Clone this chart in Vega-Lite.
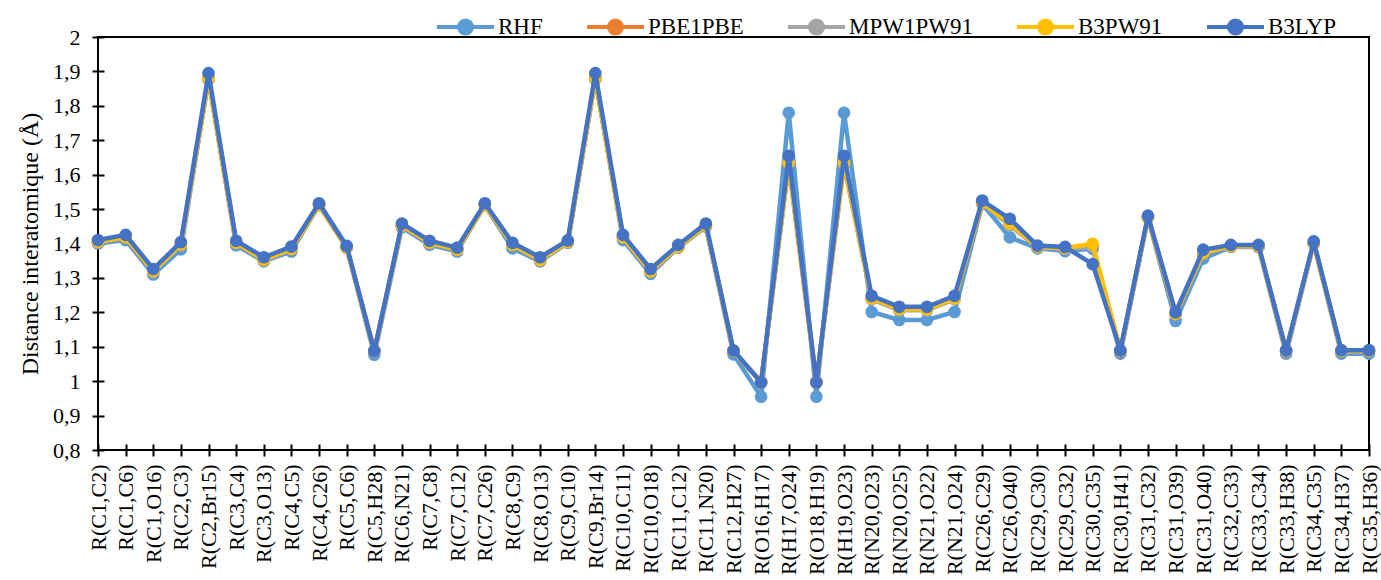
{
  "$schema": "https://vega.github.io/schema/vega-lite/v6.json",
  "autosize": {"type": "none"},
  "padding": {"left": 98, "top": 37, "right": 12, "bottom": 130},
  "width": 1271,
  "height": 413,
  "background": "white",
  "config": {
    "font": "Liberation Serif",
    "view": {"stroke": "#000000", "strokeWidth": 2},
    "axis": {"labelColor": "#000000", "titleColor": "#000000", "labelFont": "Liberation Serif", "titleFont": "Liberation Serif", "titleFontWeight": "normal"},
    "legend": {"labelFont": "Liberation Serif"}
  },
  "data": {"values": [
    {"bond": "R(C1,C2)", "method": "RHF", "value": 1.400}, {"bond": "R(C1,C2)", "method": "PBE1PBE", "value": 1.404}, {"bond": "R(C1,C2)", "method": "MPW1PW91", "value": 1.403}, {"bond": "R(C1,C2)", "method": "B3PW91", "value": 1.405}, {"bond": "R(C1,C2)", "method": "B3LYP", "value": 1.410},
    {"bond": "R(C1,C6)", "method": "RHF", "value": 1.410}, {"bond": "R(C1,C6)", "method": "PBE1PBE", "value": 1.418}, {"bond": "R(C1,C6)", "method": "MPW1PW91", "value": 1.417}, {"bond": "R(C1,C6)", "method": "B3PW91", "value": 1.419}, {"bond": "R(C1,C6)", "method": "B3LYP", "value": 1.425},
    {"bond": "R(C1,O16)", "method": "RHF", "value": 1.310}, {"bond": "R(C1,O16)", "method": "PBE1PBE", "value": 1.318}, {"bond": "R(C1,O16)", "method": "MPW1PW91", "value": 1.317}, {"bond": "R(C1,O16)", "method": "B3PW91", "value": 1.320}, {"bond": "R(C1,O16)", "method": "B3LYP", "value": 1.326},
    {"bond": "R(C2,C3)", "method": "RHF", "value": 1.383}, {"bond": "R(C2,C3)", "method": "PBE1PBE", "value": 1.396}, {"bond": "R(C2,C3)", "method": "MPW1PW91", "value": 1.395}, {"bond": "R(C2,C3)", "method": "B3PW91", "value": 1.398}, {"bond": "R(C2,C3)", "method": "B3LYP", "value": 1.404},
    {"bond": "R(C2,Br15)", "method": "RHF", "value": 1.880}, {"bond": "R(C2,Br15)", "method": "PBE1PBE", "value": 1.878}, {"bond": "R(C2,Br15)", "method": "MPW1PW91", "value": 1.876}, {"bond": "R(C2,Br15)", "method": "B3PW91", "value": 1.880}, {"bond": "R(C2,Br15)", "method": "B3LYP", "value": 1.895},
    {"bond": "R(C3,C4)", "method": "RHF", "value": 1.395}, {"bond": "R(C3,C4)", "method": "PBE1PBE", "value": 1.402}, {"bond": "R(C3,C4)", "method": "MPW1PW91", "value": 1.401}, {"bond": "R(C3,C4)", "method": "B3PW91", "value": 1.403}, {"bond": "R(C3,C4)", "method": "B3LYP", "value": 1.408},
    {"bond": "R(C3,O13)", "method": "RHF", "value": 1.348}, {"bond": "R(C3,O13)", "method": "PBE1PBE", "value": 1.352}, {"bond": "R(C3,O13)", "method": "MPW1PW91", "value": 1.351}, {"bond": "R(C3,O13)", "method": "B3PW91", "value": 1.353}, {"bond": "R(C3,O13)", "method": "B3LYP", "value": 1.360},
    {"bond": "R(C4,C5)", "method": "RHF", "value": 1.377}, {"bond": "R(C4,C5)", "method": "PBE1PBE", "value": 1.384}, {"bond": "R(C4,C5)", "method": "MPW1PW91", "value": 1.383}, {"bond": "R(C4,C5)", "method": "B3PW91", "value": 1.385}, {"bond": "R(C4,C5)", "method": "B3LYP", "value": 1.391},
    {"bond": "R(C4,C26)", "method": "RHF", "value": 1.512}, {"bond": "R(C4,C26)", "method": "PBE1PBE", "value": 1.512}, {"bond": "R(C4,C26)", "method": "MPW1PW91", "value": 1.511}, {"bond": "R(C4,C26)", "method": "B3PW91", "value": 1.512}, {"bond": "R(C4,C26)", "method": "B3LYP", "value": 1.517},
    {"bond": "R(C5,C6)", "method": "RHF", "value": 1.390}, {"bond": "R(C5,C6)", "method": "PBE1PBE", "value": 1.388}, {"bond": "R(C5,C6)", "method": "MPW1PW91", "value": 1.387}, {"bond": "R(C5,C6)", "method": "B3PW91", "value": 1.389}, {"bond": "R(C5,C6)", "method": "B3LYP", "value": 1.393},
    {"bond": "R(C5,H28)", "method": "RHF", "value": 1.077}, {"bond": "R(C5,H28)", "method": "PBE1PBE", "value": 1.088}, {"bond": "R(C5,H28)", "method": "MPW1PW91", "value": 1.087}, {"bond": "R(C5,H28)", "method": "B3PW91", "value": 1.088}, {"bond": "R(C5,H28)", "method": "B3LYP", "value": 1.088},
    {"bond": "R(C6,N21)", "method": "RHF", "value": 1.447}, {"bond": "R(C6,N21)", "method": "PBE1PBE", "value": 1.452}, {"bond": "R(C6,N21)", "method": "MPW1PW91", "value": 1.451}, {"bond": "R(C6,N21)", "method": "B3PW91", "value": 1.453}, {"bond": "R(C6,N21)", "method": "B3LYP", "value": 1.458},
    {"bond": "R(C7,C8)", "method": "RHF", "value": 1.396}, {"bond": "R(C7,C8)", "method": "PBE1PBE", "value": 1.402}, {"bond": "R(C7,C8)", "method": "MPW1PW91", "value": 1.401}, {"bond": "R(C7,C8)", "method": "B3PW91", "value": 1.403}, {"bond": "R(C7,C8)", "method": "B3LYP", "value": 1.408},
    {"bond": "R(C7,C12)", "method": "RHF", "value": 1.377}, {"bond": "R(C7,C12)", "method": "PBE1PBE", "value": 1.382}, {"bond": "R(C7,C12)", "method": "MPW1PW91", "value": 1.381}, {"bond": "R(C7,C12)", "method": "B3PW91", "value": 1.383}, {"bond": "R(C7,C12)", "method": "B3LYP", "value": 1.388},
    {"bond": "R(C7,C26)", "method": "RHF", "value": 1.512}, {"bond": "R(C7,C26)", "method": "PBE1PBE", "value": 1.512}, {"bond": "R(C7,C26)", "method": "MPW1PW91", "value": 1.511}, {"bond": "R(C7,C26)", "method": "B3PW91", "value": 1.512}, {"bond": "R(C7,C26)", "method": "B3LYP", "value": 1.517},
    {"bond": "R(C8,C9)", "method": "RHF", "value": 1.386}, {"bond": "R(C8,C9)", "method": "PBE1PBE", "value": 1.396}, {"bond": "R(C8,C9)", "method": "MPW1PW91", "value": 1.395}, {"bond": "R(C8,C9)", "method": "B3PW91", "value": 1.397}, {"bond": "R(C8,C9)", "method": "B3LYP", "value": 1.402},
    {"bond": "R(C8,O13)", "method": "RHF", "value": 1.348}, {"bond": "R(C8,O13)", "method": "PBE1PBE", "value": 1.352}, {"bond": "R(C8,O13)", "method": "MPW1PW91", "value": 1.351}, {"bond": "R(C8,O13)", "method": "B3PW91", "value": 1.353}, {"bond": "R(C8,O13)", "method": "B3LYP", "value": 1.360},
    {"bond": "R(C9,C10)", "method": "RHF", "value": 1.402}, {"bond": "R(C9,C10)", "method": "PBE1PBE", "value": 1.404}, {"bond": "R(C9,C10)", "method": "MPW1PW91", "value": 1.403}, {"bond": "R(C9,C10)", "method": "B3PW91", "value": 1.405}, {"bond": "R(C9,C10)", "method": "B3LYP", "value": 1.409},
    {"bond": "R(C9,Br14)", "method": "RHF", "value": 1.880}, {"bond": "R(C9,Br14)", "method": "PBE1PBE", "value": 1.878}, {"bond": "R(C9,Br14)", "method": "MPW1PW91", "value": 1.876}, {"bond": "R(C9,Br14)", "method": "B3PW91", "value": 1.880}, {"bond": "R(C9,Br14)", "method": "B3LYP", "value": 1.895},
    {"bond": "R(C10,C11)", "method": "RHF", "value": 1.410}, {"bond": "R(C10,C11)", "method": "PBE1PBE", "value": 1.418}, {"bond": "R(C10,C11)", "method": "MPW1PW91", "value": 1.417}, {"bond": "R(C10,C11)", "method": "B3PW91", "value": 1.419}, {"bond": "R(C10,C11)", "method": "B3LYP", "value": 1.425},
    {"bond": "R(C10,O18)", "method": "RHF", "value": 1.312}, {"bond": "R(C10,O18)", "method": "PBE1PBE", "value": 1.318}, {"bond": "R(C10,O18)", "method": "MPW1PW91", "value": 1.317}, {"bond": "R(C10,O18)", "method": "B3PW91", "value": 1.320}, {"bond": "R(C10,O18)", "method": "B3LYP", "value": 1.326},
    {"bond": "R(C11,C12)", "method": "RHF", "value": 1.388}, {"bond": "R(C11,C12)", "method": "PBE1PBE", "value": 1.390}, {"bond": "R(C11,C12)", "method": "MPW1PW91", "value": 1.389}, {"bond": "R(C11,C12)", "method": "B3PW91", "value": 1.391}, {"bond": "R(C11,C12)", "method": "B3LYP", "value": 1.396},
    {"bond": "R(C11,N20)", "method": "RHF", "value": 1.449}, {"bond": "R(C11,N20)", "method": "PBE1PBE", "value": 1.452}, {"bond": "R(C11,N20)", "method": "MPW1PW91", "value": 1.451}, {"bond": "R(C11,N20)", "method": "B3PW91", "value": 1.453}, {"bond": "R(C11,N20)", "method": "B3LYP", "value": 1.458},
    {"bond": "R(C12,H27)", "method": "RHF", "value": 1.078}, {"bond": "R(C12,H27)", "method": "PBE1PBE", "value": 1.088}, {"bond": "R(C12,H27)", "method": "MPW1PW91", "value": 1.087}, {"bond": "R(C12,H27)", "method": "B3PW91", "value": 1.088}, {"bond": "R(C12,H27)", "method": "B3LYP", "value": 1.089},
    {"bond": "R(O16,H17)", "method": "RHF", "value": 0.955}, {"bond": "R(O16,H17)", "method": "PBE1PBE", "value": 0.998}, {"bond": "R(O16,H17)", "method": "MPW1PW91", "value": 0.997}, {"bond": "R(O16,H17)", "method": "B3PW91", "value": 0.996}, {"bond": "R(O16,H17)", "method": "B3LYP", "value": 0.996},
    {"bond": "R(H17,O24)", "method": "RHF", "value": 1.780}, {"bond": "R(H17,O24)", "method": "PBE1PBE", "value": 1.630}, {"bond": "R(H17,O24)", "method": "MPW1PW91", "value": 1.632}, {"bond": "R(H17,O24)", "method": "B3PW91", "value": 1.635}, {"bond": "R(H17,O24)", "method": "B3LYP", "value": 1.655},
    {"bond": "R(O18,H19)", "method": "RHF", "value": 0.955}, {"bond": "R(O18,H19)", "method": "PBE1PBE", "value": 0.998}, {"bond": "R(O18,H19)", "method": "MPW1PW91", "value": 0.997}, {"bond": "R(O18,H19)", "method": "B3PW91", "value": 0.996}, {"bond": "R(O18,H19)", "method": "B3LYP", "value": 0.996},
    {"bond": "R(H19,O23)", "method": "RHF", "value": 1.780}, {"bond": "R(H19,O23)", "method": "PBE1PBE", "value": 1.630}, {"bond": "R(H19,O23)", "method": "MPW1PW91", "value": 1.632}, {"bond": "R(H19,O23)", "method": "B3PW91", "value": 1.635}, {"bond": "R(H19,O23)", "method": "B3LYP", "value": 1.655},
    {"bond": "R(N20,O23)", "method": "RHF", "value": 1.201}, {"bond": "R(N20,O23)", "method": "PBE1PBE", "value": 1.240}, {"bond": "R(N20,O23)", "method": "MPW1PW91", "value": 1.238}, {"bond": "R(N20,O23)", "method": "B3PW91", "value": 1.241}, {"bond": "R(N20,O23)", "method": "B3LYP", "value": 1.248},
    {"bond": "R(N20,O25)", "method": "RHF", "value": 1.178}, {"bond": "R(N20,O25)", "method": "PBE1PBE", "value": 1.208}, {"bond": "R(N20,O25)", "method": "MPW1PW91", "value": 1.206}, {"bond": "R(N20,O25)", "method": "B3PW91", "value": 1.209}, {"bond": "R(N20,O25)", "method": "B3LYP", "value": 1.216},
    {"bond": "R(N21,O22)", "method": "RHF", "value": 1.178}, {"bond": "R(N21,O22)", "method": "PBE1PBE", "value": 1.208}, {"bond": "R(N21,O22)", "method": "MPW1PW91", "value": 1.206}, {"bond": "R(N21,O22)", "method": "B3PW91", "value": 1.209}, {"bond": "R(N21,O22)", "method": "B3LYP", "value": 1.216},
    {"bond": "R(N21,O24)", "method": "RHF", "value": 1.201}, {"bond": "R(N21,O24)", "method": "PBE1PBE", "value": 1.240}, {"bond": "R(N21,O24)", "method": "MPW1PW91", "value": 1.238}, {"bond": "R(N21,O24)", "method": "B3PW91", "value": 1.241}, {"bond": "R(N21,O24)", "method": "B3LYP", "value": 1.248},
    {"bond": "R(C26,C29)", "method": "RHF", "value": 1.515}, {"bond": "R(C26,C29)", "method": "PBE1PBE", "value": 1.518}, {"bond": "R(C26,C29)", "method": "MPW1PW91", "value": 1.517}, {"bond": "R(C26,C29)", "method": "B3PW91", "value": 1.519}, {"bond": "R(C26,C29)", "method": "B3LYP", "value": 1.525},
    {"bond": "R(C26,O40)", "method": "RHF", "value": 1.418}, {"bond": "R(C26,O40)", "method": "PBE1PBE", "value": 1.455}, {"bond": "R(C26,O40)", "method": "MPW1PW91", "value": 1.453}, {"bond": "R(C26,O40)", "method": "B3PW91", "value": 1.458}, {"bond": "R(C26,O40)", "method": "B3LYP", "value": 1.472},
    {"bond": "R(C29,C30)", "method": "RHF", "value": 1.386}, {"bond": "R(C29,C30)", "method": "PBE1PBE", "value": 1.390}, {"bond": "R(C29,C30)", "method": "MPW1PW91", "value": 1.389}, {"bond": "R(C29,C30)", "method": "B3PW91", "value": 1.391}, {"bond": "R(C29,C30)", "method": "B3LYP", "value": 1.394},
    {"bond": "R(C29,C32)", "method": "RHF", "value": 1.378}, {"bond": "R(C29,C32)", "method": "PBE1PBE", "value": 1.386}, {"bond": "R(C29,C32)", "method": "MPW1PW91", "value": 1.385}, {"bond": "R(C29,C32)", "method": "B3PW91", "value": 1.387}, {"bond": "R(C29,C32)", "method": "B3LYP", "value": 1.390},
    {"bond": "R(C30,C35)", "method": "RHF", "value": 1.385}, {"bond": "R(C30,C35)", "method": "PBE1PBE", "value": 1.392}, {"bond": "R(C30,C35)", "method": "MPW1PW91", "value": 1.391}, {"bond": "R(C30,C35)", "method": "B3PW91", "value": 1.399}, {"bond": "R(C30,C35)", "method": "B3LYP", "value": 1.340},
    {"bond": "R(C30,H41)", "method": "RHF", "value": 1.080}, {"bond": "R(C30,H41)", "method": "PBE1PBE", "value": 1.088}, {"bond": "R(C30,H41)", "method": "MPW1PW91", "value": 1.087}, {"bond": "R(C30,H41)", "method": "B3PW91", "value": 1.088}, {"bond": "R(C30,H41)", "method": "B3LYP", "value": 1.090},
    {"bond": "R(C31,C32)", "method": "RHF", "value": 1.474}, {"bond": "R(C31,C32)", "method": "PBE1PBE", "value": 1.476}, {"bond": "R(C31,C32)", "method": "MPW1PW91", "value": 1.475}, {"bond": "R(C31,C32)", "method": "B3PW91", "value": 1.477}, {"bond": "R(C31,C32)", "method": "B3LYP", "value": 1.481},
    {"bond": "R(C31,O39)", "method": "RHF", "value": 1.175}, {"bond": "R(C31,O39)", "method": "PBE1PBE", "value": 1.195}, {"bond": "R(C31,O39)", "method": "MPW1PW91", "value": 1.194}, {"bond": "R(C31,O39)", "method": "B3PW91", "value": 1.196}, {"bond": "R(C31,O39)", "method": "B3LYP", "value": 1.200},
    {"bond": "R(C31,O40)", "method": "RHF", "value": 1.356}, {"bond": "R(C31,O40)", "method": "PBE1PBE", "value": 1.372}, {"bond": "R(C31,O40)", "method": "MPW1PW91", "value": 1.371}, {"bond": "R(C31,O40)", "method": "B3PW91", "value": 1.374}, {"bond": "R(C31,O40)", "method": "B3LYP", "value": 1.382},
    {"bond": "R(C32,C33)", "method": "RHF", "value": 1.390}, {"bond": "R(C32,C33)", "method": "PBE1PBE", "value": 1.392}, {"bond": "R(C32,C33)", "method": "MPW1PW91", "value": 1.391}, {"bond": "R(C32,C33)", "method": "B3PW91", "value": 1.393}, {"bond": "R(C32,C33)", "method": "B3LYP", "value": 1.396},
    {"bond": "R(C33,C34)", "method": "RHF", "value": 1.390}, {"bond": "R(C33,C34)", "method": "PBE1PBE", "value": 1.392}, {"bond": "R(C33,C34)", "method": "MPW1PW91", "value": 1.391}, {"bond": "R(C33,C34)", "method": "B3PW91", "value": 1.393}, {"bond": "R(C33,C34)", "method": "B3LYP", "value": 1.396},
    {"bond": "R(C33,H38)", "method": "RHF", "value": 1.080}, {"bond": "R(C33,H38)", "method": "PBE1PBE", "value": 1.088}, {"bond": "R(C33,H38)", "method": "MPW1PW91", "value": 1.087}, {"bond": "R(C33,H38)", "method": "B3PW91", "value": 1.088}, {"bond": "R(C33,H38)", "method": "B3LYP", "value": 1.090},
    {"bond": "R(C34,C35)", "method": "RHF", "value": 1.400}, {"bond": "R(C34,C35)", "method": "PBE1PBE", "value": 1.401}, {"bond": "R(C34,C35)", "method": "MPW1PW91", "value": 1.400}, {"bond": "R(C34,C35)", "method": "B3PW91", "value": 1.402}, {"bond": "R(C34,C35)", "method": "B3LYP", "value": 1.406},
    {"bond": "R(C34,H37)", "method": "RHF", "value": 1.080}, {"bond": "R(C34,H37)", "method": "PBE1PBE", "value": 1.088}, {"bond": "R(C34,H37)", "method": "MPW1PW91", "value": 1.087}, {"bond": "R(C34,H37)", "method": "B3PW91", "value": 1.088}, {"bond": "R(C34,H37)", "method": "B3LYP", "value": 1.090},
    {"bond": "R(C35,H36)", "method": "RHF", "value": 1.080}, {"bond": "R(C35,H36)", "method": "PBE1PBE", "value": 1.088}, {"bond": "R(C35,H36)", "method": "MPW1PW91", "value": 1.087}, {"bond": "R(C35,H36)", "method": "B3PW91", "value": 1.088}, {"bond": "R(C35,H36)", "method": "B3LYP", "value": 1.090}
  ]},
  "encoding": {
    "x": {
      "field": "bond", "type": "nominal", "sort": null,
      "scale": {"type": "point", "padding": 0},
      "axis": {"title": null, "labelAngle": -90, "labelFontSize": 22, "domain": false, "offset": -6, "tickSize": 12, "tickWidth": 2, "tickColor": "#000000", "labelPadding": 8}
    },
    "y": {
      "field": "value", "type": "quantitative",
      "scale": {"domain": [0.8, 2], "nice": false, "zero": false},
      "axis": {
        "title": "Distance interatomique (Å)", "titleFontSize": 24, "titlePadding": 10,
        "values": [0.8, 0.9, 1.0, 1.1, 1.2, 1.3, 1.4, 1.5, 1.6, 1.7, 1.8, 1.9, 2.0],
        "labelExpr": "replace(format(datum.value, '.1~f'), '.', ',')",
        "labelFontSize": 22, "grid": false, "domain": false, "offset": -6, "tickSize": 12, "tickWidth": 2, "tickColor": "#000000", "labelPadding": 12
      }
    },
    "color": {
      "field": "method", "type": "nominal",
      "scale": {"domain": ["RHF", "PBE1PBE", "MPW1PW91", "B3PW91", "B3LYP"], "range": ["#5B9BD5", "#ED7D31", "#A5A5A5", "#FFC000", "#4472C4"]},
      "legend": {
        "title": null, "orient": "none", "direction": "horizontal", "legendX": 337, "legendY": -41, "padding": 0,
        "symbolType": "M-1,0L1,0M0.23,0A0.23,0.23,0,1,1,-0.23,0A0.23,0.23,0,1,1,0.23,0Z",
        "symbolSize": 3249, "symbolStrokeWidth": 4, "labelFontSize": 23, "labelColor": "#000000", "labelOffset": 2, "columnPadding": 36,
        "encode": {"symbols": {"update": {"fill": {"scale": "color", "field": "value"}, "stroke": {"scale": "color", "field": "value"}, "opacity": {"value": 1}}}}
      }
    }
  },
  "layer": [
    {"transform": [{"filter": "datum.method == 'RHF'"}], "mark": {"type": "line", "strokeWidth": 4.5, "point": {"filled": true, "size": 160, "opacity": 1}}},
    {"transform": [{"filter": "datum.method == 'PBE1PBE'"}], "mark": {"type": "line", "strokeWidth": 4.5, "point": {"filled": true, "size": 160, "opacity": 1}}},
    {"transform": [{"filter": "datum.method == 'MPW1PW91'"}], "mark": {"type": "line", "strokeWidth": 4.5, "point": {"filled": true, "size": 160, "opacity": 1}}},
    {"transform": [{"filter": "datum.method == 'B3PW91'"}], "mark": {"type": "line", "strokeWidth": 4.5, "point": {"filled": true, "size": 160, "opacity": 1}}},
    {"transform": [{"filter": "datum.method == 'B3LYP'"}], "mark": {"type": "line", "strokeWidth": 4.5, "point": {"filled": true, "size": 160, "opacity": 1}}}
  ]
}
